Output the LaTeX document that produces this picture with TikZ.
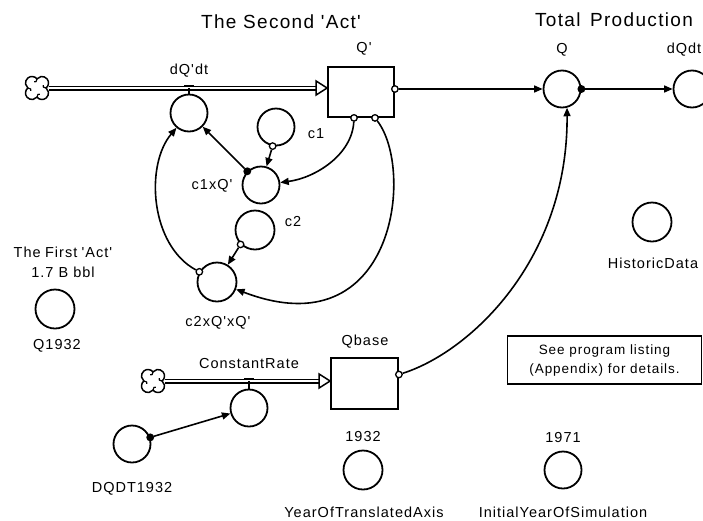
\documentclass[tikz,border=0pt]{standalone}
\usepackage{fontspec}
\newfontfamily\lblfnt{Liberation Sans}[LetterSpace=7]
\usetikzlibrary{arrows.meta}
\tikzset{
 conv/.style={circle,draw,line width=1.8pt,minimum size=37pt,inner sep=0pt},
 stock/.style={draw,line width=1.8pt,minimum width=66pt,minimum height=50pt,inner sep=0pt},
 lbl/.style={font=\lblfnt\fontsize{14.5}{16}\selectfont,inner sep=0pt},
 ttl/.style={font=\lblfnt\fontsize{19}{21}\selectfont,inner sep=0pt},
 note/.style={draw,line width=1.5pt,minimum width=194pt,minimum height=48pt,align=center,inner sep=0pt,font=\lblfnt\fontsize{13.5}{19}\selectfont},
 link/.style={line width=1.6pt,-{Triangle[length=8.5pt,width=7pt]}},
 port/.style={circle,draw,fill=white,line width=1.3pt,minimum size=6.5pt,inner sep=0pt},
 fport/.style={port,fill=black},
 pipe/.style={draw,double=white,double distance=2.2pt,line width=1.4pt},
 valvebar/.style={line width=2.8pt},
 headtri/.style={line width=1.5pt,fill=white},
 srccloud/.pic={
  \draw[line width=1.5pt,fill=white] (0,9.15)
   arc[start angle=140.3,end angle=-50.3,radius=6.5]
   arc[start angle=50.3,end angle=-140.3,radius=6.5]
   arc[start angle=-39.7,end angle=-230.3,radius=6.5]
   arc[start angle=-129.7,end angle=-320.3,radius=6.5] -- cycle;
  \foreach \r in {0,90,180,270}
   \draw[line width=1.2pt,rotate=\r] (0,9.15) .. controls (0,6.5) and (1.5,5.5) .. (2.8,6.2);
 }
}
\begin{document}
\begin{tikzpicture}[x=1pt,y=-1pt]
\useasboundingbox[fill=white] (0,0) rectangle (703,520);

% titles
\node[ttl] (t2) at (281,22) {The Second 'Act'};
\node[ttl] (tp) at (614,20) {Total\hspace{0.5em}Production};

% stocks
\node[stock] (Qp) at (361,92) {};
\node[lbl] (QpL) at (364,49) {Q'};
\node[stock,minimum width=67pt,minimum height=51pt] (Qb) at (364.5,383.5) {};
\node[lbl] (QbL) at (365,342) {Qbase};

% converters
\node[conv] (dqp) at (189,113) {};
\node[lbl] (dqpL) at (189,71) {dQ'dt};
\node[conv] (c1) at (276,127) {};
\node[lbl] (c1L) at (316,134) {c1};
\node[conv] (c1x) at (261,185) {};
\node[lbl] (c1xL) at (212,186) {c1xQ'};
\node[conv,minimum size=39pt] (c2) at (255,230) {};
\node[lbl] (c2L) at (293,222) {c2};
\node[conv,minimum size=39pt] (c2x) at (217,282) {};
\node[lbl] (c2xL) at (218,323) {c2xQ'xQ'};

\node[lbl] (fa1) at (63,252) {The\hspace{0.3em}First\hspace{0.3em}'Act'};
\node[lbl] (fa2) at (63,272) {1.7 B bbl};
\node[conv,minimum size=39pt] (q32) at (55,309) {};
\node[lbl] (q32L) at (57,346) {Q1932};

\node[conv] (Q) at (562,89) {};
\node[lbl] (QL) at (562,50) {Q};
\node[conv] (dqdt) at (692,89) {};
\node[lbl] (dqdtL) at (684,50) {dQdt};

\node[conv,minimum size=39pt] (hd) at (652,222) {};
\node[lbl] (hdL) at (653,263) {HistoricData};
\draw[line width=1pt] ([xshift=-2.5pt,yshift=1pt]hd.south) -- ([xshift=2.5pt,yshift=1pt]hd.south);

\node[note] (nt) at (604.5,360) {See program listing\\(Appendix) for details.};

\node[conv] (cr) at (249,408) {};
\node[lbl] (crL) at (249,363) {ConstantRate};
\node[conv] (dq32) at (132,444) {};
\node[lbl] (dq32L) at (132,489) {DQDT1932};

\node[lbl] (y32L) at (363,436) {1932};
\node[conv,minimum size=39pt] (yta) at (363,470) {};
\node[lbl] (ytaL) at (364,512) {YearOfTranslatedAxis};
\node[lbl] (y71L) at (563,437) {1971};
\node[conv] (iys) at (563,470) {};
\node[lbl] (iysL) at (563,512) {InitialYearOfSimulation};

% flow 1
\pic at (37,88) {srccloud};
\coordinate (src1) at (49,88);
\coordinate (in1) at (Qp.west |- src1);
\draw[pipe] (src1) -- ([xshift=-10pt]in1);
\draw[headtri] ([xshift=-11pt,yshift=-7pt]in1) -- (in1) -- ([xshift=-11pt,yshift=7pt]in1) -- cycle;
\coordinate (v1) at (dqp.north |- src1);
\draw[line width=1.2pt] (v1) -- (dqp.north);
\draw[valvebar] ([xshift=-5pt,yshift=2pt]v1) -- ([xshift=5pt,yshift=2pt]v1);

% flow 2
\pic at (153,381) {srccloud};
\coordinate (src2) at (165,381);
\coordinate (in2) at (Qb.west |- src2);
\draw[pipe] (src2) -- ([xshift=-10pt]in2);
\draw[headtri] ([xshift=-11pt,yshift=-7pt]in2) -- (in2) -- ([xshift=-11pt,yshift=7pt]in2) -- cycle;
\coordinate (v2) at (cr.north |- src2);
\draw[line width=1.2pt] (v2) -- (cr.north);
\draw[valvebar] ([xshift=-5pt,yshift=2pt]v2) -- ([xshift=5pt,yshift=2pt]v2);

% ports
\node[port] (pQ1) at (Qp.east |- Q) {};
\node[fport] (pQ2) at (Q.east) {};
\node[port] (pQa) at ([xshift=-7pt]Qp.south) {};
\node[port] (pQb) at ([xshift=14pt]Qp.south) {};
\node[port] (pB) at ([yshift=9pt]Qb.east) {};
\node[port] (pC) at (c2x.150) {};
\node[port] (pD) at (c1.-100) {};
\node[fport] (pE) at (c1x.135) {};
\node[port] (pF) at (c2.-135) {};
\node[fport] (pG) at (dq32.20) {};

% links
\draw[link] (pQ1) -- (Q);
\draw[link] (pQ2) -- (dqdt);
\draw[link] (pB) .. controls (470,352) and (568,260) .. (Q.-75);
\draw[link] (pQa) .. controls (352,155) and (315,178) .. (c1x);
\draw[link] (pQb) .. controls (415,170) and (395,350) .. (c2x);
\draw[link] (pC) .. controls (150,245) and (145,165) .. (dqp);
\draw[link] (pD) -- (c1x);
\draw[link] (pE) -- (dqp);
\draw[link] (pF) -- (c2x);
\draw[link] (pG) -- (cr);
\end{tikzpicture}
\end{document}
